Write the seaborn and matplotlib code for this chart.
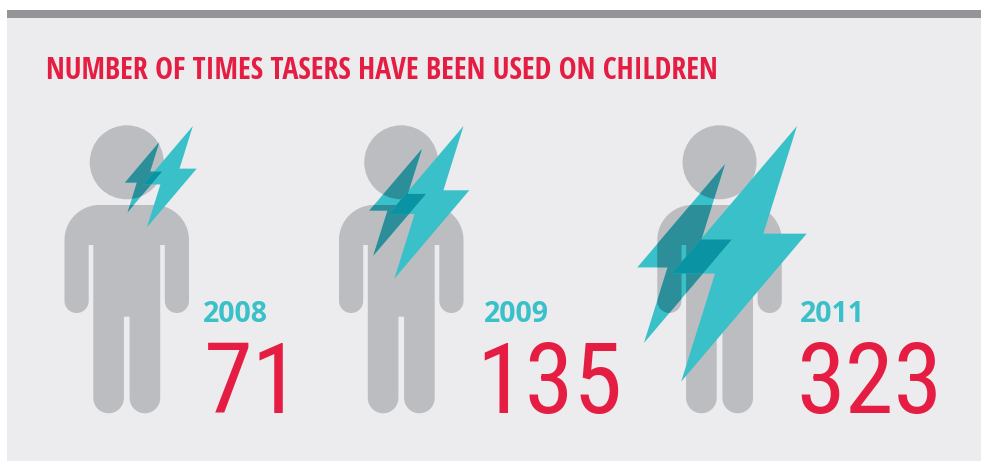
import numpy as np
import matplotlib
matplotlib.use("Agg")
import matplotlib.pyplot as plt
from matplotlib.patches import Polygon, Circle, Rectangle
import seaborn as sns

# ---- data ----
title = "NUMBER OF TIMES TASERS HAVE BEEN USED ON CHILDREN"
years = ["2008", "2009", "2011"]
counts = [71, 135, 323]

# ---- layout (pixels) ----
W, H = 981, 461
person_left = [64.5, 339.0, 657.3]
year_x = [203.0, 483.5, 800.0]
count_x = [204.0, 476.0, 796.0]
light_box = [(143.2, 126.0, 196.7, 227.3), (388.7, 126.0, 469.3, 278.7), (671.7, 126.0, 806.7, 381.7)]
dark_box = [(125.0, 142.0, 162.0, 212.3), (369.3, 149.0, 426.0, 255.7), (637.3, 164.3, 731.7, 343.0)]

BG, BAR, GREY, TEAL, RED = "#ECECEE", "#939598", "#BCBDC0", "#39C0C9", "#E51D42"
TEAL_ON_GREY, TEAL_ON_TEAL = "#2B8E99", "#0A93A2"

BOLT = np.array([[0.928, 0], [0.679, 0.421], [1, 0.421], [0.07, 1], [0.321, 0.577], [0, 0.577]])

sns.set_theme(style="white", rc={"figure.facecolor": "white", "axes.facecolor": "white"})
fig = plt.figure(figsize=(W / 100, H / 100), dpi=100)
ax = fig.add_axes([0, 0, 1, 1])
ax.set_xlim(0, W)
ax.set_ylim(H, 0)
ax.axis("off")
sns.despine(ax=ax, left=True, bottom=True)


def arc(cx, cy, r, a0, a1, n=24):
    t = np.radians(np.linspace(a0, a1, n))
    return np.column_stack([cx + r * np.cos(t), cy + r * np.sin(t)])


def person_outline(x0):
    x1 = x0 + 124.5
    cx = x0 + 62.25
    top, r, slit, arm_end, foot, crotch = 205.0, 35.0, 245.0, 313.0, 413.3, 316.7
    aw, sw, gap = 24.2, 4.6, 2.85
    leg = (124.5 - 2 * (aw + sw) - 2 * gap) / 2
    parts = [
        arc(x1 - r, top + r, r, -90, 0),
        arc(x1 - aw / 2, arm_end - aw / 2, aw / 2, 0, 180),
        [[x1 - aw, slit], [x1 - aw - sw, slit]],
        arc(x1 - aw - sw - leg / 2, foot - leg / 2, leg / 2, 0, 180),
        [[cx + gap, crotch], [cx - gap, crotch]],
        arc(x0 + aw + sw + leg / 2, foot - leg / 2, leg / 2, 0, 180),
        [[x0 + aw + sw, slit], [x0 + aw, slit]],
        arc(x0 + aw / 2, arm_end - aw / 2, aw / 2, 0, 180),
        arc(x0 + r, top + r, r, 180, 270),
    ]
    return np.vstack(parts)


def bolt_points(box):
    l, t, r, b = box
    return BOLT * [r - l, b - t] + [l, t]


ax.add_patch(Rectangle((7, 18), W - 7, H - 18, fc=BG, ec="none", zorder=0))
ax.add_patch(Rectangle((7, 10), W - 7, 8, fc=BAR, ec="none", zorder=1))

for i, (year, count) in enumerate(zip(years, counts)):
    x0 = person_left[i]
    body = Polygon(person_outline(x0), closed=True, fc=GREY, ec="none", zorder=2)
    head = Circle((x0 + 62.25, 162.3), 37, fc=GREY, ec="none", zorder=2)
    ax.add_patch(body)
    ax.add_patch(head)

    dark_pts = bolt_points(dark_box[i])
    light_pts = bolt_points(light_box[i])
    ax.add_patch(Polygon(dark_pts, closed=True, fc=TEAL, ec="none", zorder=3))
    for part in (body, head):
        p = Polygon(dark_pts, closed=True, fc=TEAL_ON_GREY, ec="none", zorder=4)
        ax.add_patch(p)
        p.set_clip_path(part)
    light = Polygon(light_pts, closed=True, fc=TEAL, ec="none", zorder=5)
    ax.add_patch(light)
    over = Polygon(dark_pts, closed=True, fc=TEAL_ON_TEAL, ec="none", zorder=6)
    ax.add_patch(over)
    over.set_clip_path(light)

    ax.text(year_x[i], 322.3, year, color=TEAL, fontsize=20.5, fontweight=700,
            family="Open Sans", va="baseline", ha="left", zorder=7)
    ax.text(count_x[i], 413.3, str(count), color=RED, fontsize=71,
            family="Roboto Condensed", fontweight=400,
            va="baseline", ha="left", zorder=7)

ax.text(46, 79, title, color=RED, fontsize=21.6, fontweight=700,
        family="Open Sans Condensed", va="baseline", ha="left", zorder=7)

fig.savefig("out.png", dpi=100, facecolor="white")
